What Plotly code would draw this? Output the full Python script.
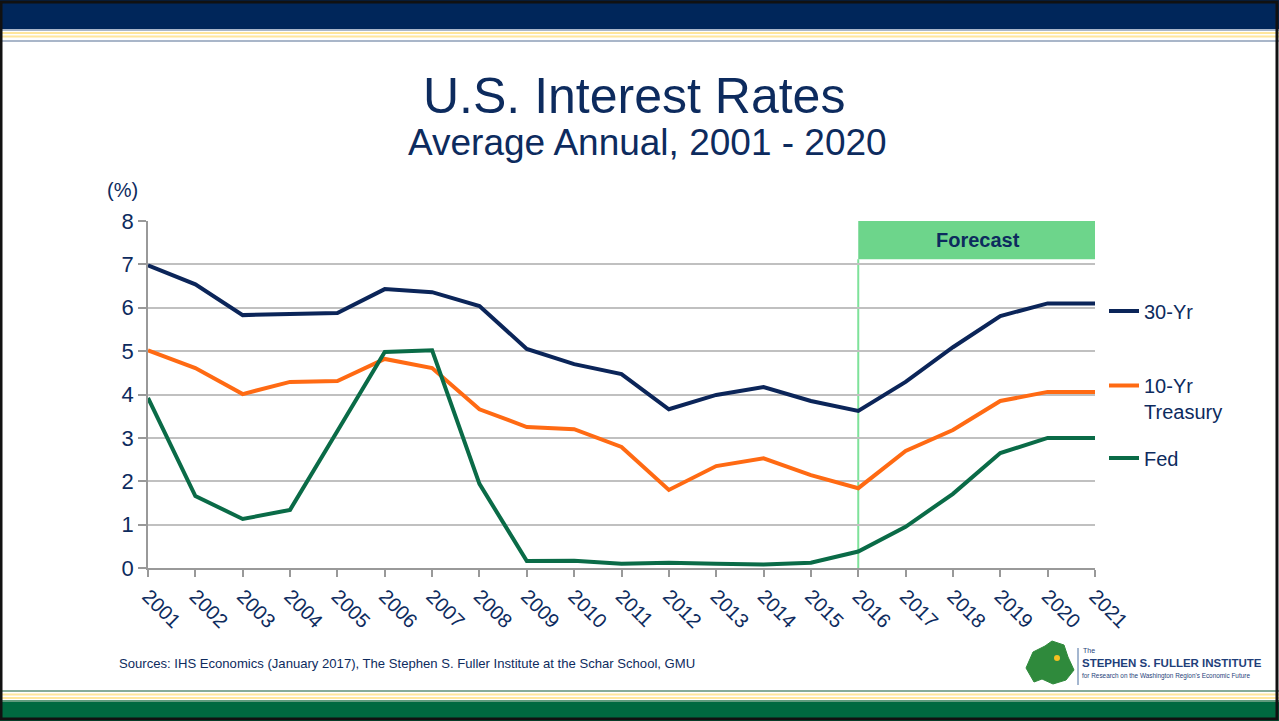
import plotly.graph_objects as go

years = list(range(2001, 2022))
thirty_yr = [6.98, 6.54, 5.83, 5.85, 5.88, 6.43, 6.36, 6.04, 5.05, 4.70, 4.47,
             3.66, 3.99, 4.17, 3.85, 3.62, 4.29, 5.09, 5.81, 6.10, 6.10]
ten_yr = [5.02, 4.61, 4.01, 4.29, 4.31, 4.82, 4.61, 3.66, 3.25, 3.20, 2.79,
          1.80, 2.35, 2.53, 2.14, 1.84, 2.70, 3.18, 3.85, 4.06, 4.06]
fed = [3.92, 1.66, 1.13, 1.34, 3.16, 4.98, 5.02, 1.94, 0.16, 0.17, 0.10,
       0.12, 0.10, 0.08, 0.12, 0.38, 0.95, 1.71, 2.65, 3.00, 3.00]
series_names = ["30-Yr", "10-Yr<br>Treasury", "Fed"]
series_colors = ["#0b2559", "#ff6a13", "#0a6b47"]
forecast_start = 2016
forecast_end = 2021.06
forecast_box_bottom = 7.12

W, H = 1279, 721
L, R, T, B = 148, 1095, 221, 568

def px(x):
    return (x - L) / (R - L)

def py(y):
    return (B - y) / (B - T)

NAVY = "#0d2b5e"
FONT = "Liberation Sans, Arial, sans-serif"

legend_ids = ["legend", "legend2", "legend3"]
legend_centers = [311, 398.5, 458]

fig = go.Figure()
for name, vals, col, lid in zip(series_names, [thirty_yr, ten_yr, fed], series_colors, legend_ids):
    fig.add_trace(go.Scatter(x=years, y=vals, mode="lines", name=name, legend=lid,
                             line=dict(color=col, width=4)))

shapes = []
# top banner
shapes.append(dict(type="rect", xref="paper", yref="paper", x0=px(0), x1=px(W),
                   y0=py(29), y1=py(0), fillcolor="#00265a", line=dict(width=0), layer="below"))
for (ya, yb, c) in [(29, 31, "#a9b6c9"), (32, 34, "#ffe69c"), (35.5, 37.5, "#ffe69c"), (40, 42, "#a9b6c9")]:
    shapes.append(dict(type="rect", xref="paper", yref="paper", x0=px(0), x1=px(W),
                       y0=py(yb), y1=py(ya), fillcolor=c, line=dict(width=0), layer="below"))
# bottom banner
for (ya, yb, c) in [(690, 692, "#86ab98"), (693.5, 695.5, "#ffe69c"), (697, 699, "#ffe69c"), (700, 702, "#5f9a7c")]:
    shapes.append(dict(type="rect", xref="paper", yref="paper", x0=px(0), x1=px(W),
                       y0=py(yb), y1=py(ya), fillcolor=c, line=dict(width=0), layer="below"))
shapes.append(dict(type="rect", xref="paper", yref="paper", x0=px(0), x1=px(W),
                   y0=py(721), y1=py(702), fillcolor="#006940", line=dict(width=0), layer="below"))
# outer frame
shapes.append(dict(type="rect", xref="paper", yref="paper", x0=px(1), x1=px(W - 2),
                   y0=py(H - 2), y1=py(2), line=dict(color="#111111", width=3)))
# forecast box and divider
shapes.append(dict(type="rect", xref="x", yref="y", x0=forecast_start, x1=forecast_end,
                   y0=forecast_box_bottom, y1=8, fillcolor="#6dd58b", line=dict(width=0), layer="above"))
shapes.append(dict(type="line", xref="x", yref="y", x0=forecast_start, x1=forecast_start,
                   y0=0, y1=forecast_box_bottom, line=dict(color="#7ee29a", width=2), layer="below"))
# logo map blob
blob = ("M {},{} L {},{} L {},{} L {},{} L {},{} L {},{} L {},{} L {},{} L {},{} L {},{} L {},{} Z").format(
    px(1026), py(668), px(1033), py(652), px(1045), py(646), px(1052), py(641), px(1064), py(645),
    px(1068), py(657), px(1074), py(670), px(1066), py(680), px(1053), py(684), px(1042), py(679),
    px(1034), py(682))
shapes.append(dict(type="path", xref="paper", yref="paper", path=blob, fillcolor="#2f8a3c",
                   line=dict(color="#2f8a3c", width=1)))
shapes.append(dict(type="circle", xref="paper", yref="paper", x0=px(1054), x1=px(1060),
                   y0=py(661), y1=py(655), fillcolor="#f4c020", line=dict(width=0)))
shapes.append(dict(type="line", xref="paper", yref="paper", x0=px(1078), x1=px(1078),
                   y0=py(685), y1=py(648), line=dict(color="#4a6fa0", width=1)))

annotations = [
    dict(text="U.S. Interest Rates", x=px(634), y=py(96), xref="paper", yref="paper",
         showarrow=False, font=dict(size=50, color=NAVY, family=FONT), xanchor="center", yanchor="middle"),
    dict(text="Average Annual, 2001 - 2020", x=px(647), y=py(142), xref="paper", yref="paper",
         showarrow=False, font=dict(size=37, color=NAVY, family=FONT), xanchor="center", yanchor="middle"),
    dict(text="(%)", x=px(122), y=py(190), xref="paper", yref="paper",
         showarrow=False, font=dict(size=20, color=NAVY, family=FONT), xanchor="center", yanchor="middle"),
    dict(text="<b>Forecast</b>", x=(forecast_start + forecast_end) / 2, y=(forecast_box_bottom + 8) / 2,
         xref="x", yref="y", showarrow=False, font=dict(size=20, color=NAVY, family=FONT)),
    dict(text="Sources: IHS Economics (January 2017), The Stephen S. Fuller Institute at the Schar School, GMU",
         x=px(117), y=py(663), xref="paper", yref="paper", showarrow=False, xanchor="left", yanchor="middle",
         font=dict(size=13.1, color=NAVY, family=FONT)),
    dict(text="The", x=px(1081), y=py(650), xref="paper", yref="paper", showarrow=False,
         xanchor="left", yanchor="middle", font=dict(size=7, color="#1f3f7a", family=FONT)),
    dict(text="<b>STEPHEN S. FULLER INSTITUTE</b>", x=px(1080), y=py(663), xref="paper", yref="paper",
         showarrow=False, xanchor="left", yanchor="middle",
         font=dict(size=11.5, color="#1f3f7a", family=FONT)),
    dict(text="for Research on the Washington Region's Economic Future", x=px(1080), y=py(676),
         xref="paper", yref="paper", showarrow=False, xanchor="left", yanchor="middle",
         font=dict(size=6.4, color="#1f3f7a", family=FONT)),
]

legend_common = dict(xanchor="left", yanchor="middle", valign="top", bgcolor="rgba(0,0,0,0)",
                     itemwidth=30, font=dict(size=20, color=NAVY, family=FONT))

fig.update_layout(
    width=W, height=H, autosize=False,
    margin=dict(l=L, r=W - R, t=T, b=H - B, pad=0),
    paper_bgcolor="white", plot_bgcolor="white",
    font=dict(family=FONT, color=NAVY),
    shapes=shapes, annotations=annotations,
    showlegend=True,
    legend=dict(x=px(1104), y=py(legend_centers[0]), **legend_common),
    legend2=dict(x=px(1104), y=py(legend_centers[1]), **legend_common),
    legend3=dict(x=px(1104), y=py(legend_centers[2]), **legend_common),
    xaxis=dict(range=[2001, 2021], tickmode="linear", tick0=2001, dtick=1,
               showgrid=False, zeroline=False, showline=True, linecolor="#999999", linewidth=1.5,
               ticks="outside", ticklen=7, tickcolor="#999999", tickwidth=1.5,
               tickangle=45, tickfont=dict(size=20, color=NAVY, family=FONT)),
    yaxis=dict(range=[0, 8], tickmode="linear", tick0=0, dtick=1,
               showgrid=True, gridcolor="#c0c0c0", gridwidth=1.5, zeroline=False,
               showline=True, linecolor="#999999", linewidth=1.5,
               ticks="outside", ticklen=8, tickcolor="#999999", tickwidth=1.5,
               tickfont=dict(size=22, color=NAVY, family=FONT)),
)

fig.write_html("out.html", config={"displayModeBar": False},
               post_script="document.body.style.margin='0';document.body.style.overflow='hidden';")
